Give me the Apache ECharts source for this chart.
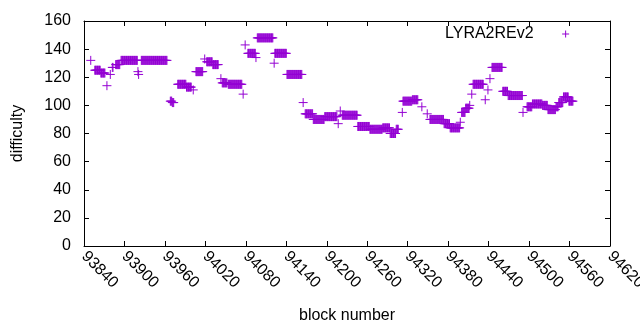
<!DOCTYPE html>
<html>
<head>
<meta charset="utf-8">
<script src="https://cdn.jsdelivr.net/npm/echarts@6/dist/echarts.min.js"></script>
<style>
html, body { margin: 0; padding: 0; background: #fff; }
#chart { width: 640px; height: 330px; }
</style>
</head>
<body>
<div id="chart"></div>
<script>
// difficulty held constant over runs of blocks: [start, end] inclusive
var runStart = [93850, 93856, 93865, 93874, 93879, 93882, 93887, 93895, 93920, 93921,
                93925, 93968, 93971, 93979, 93992, 94002, 94006, 94019, 94022, 94031,
                94043, 94045, 94054, 94076, 94079, 94083, 94095, 94097, 94122, 94123,
                94141, 94165, 94168, 94180, 94197, 94217, 94220, 94223, 94246, 94264,
                94283, 94294, 94303, 94312, 94313, 94327, 94341, 94349, 94353, 94374,
                94383, 94398, 94400, 94406, 94412, 94415, 94417, 94435, 94439, 94442,
                94445, 94461, 94469, 94491, 94497, 94505, 94520, 94528, 94540, 94544,
                94551, 94559];
var runEnd   = [93850, 93864, 93871, 93874, 93879, 93883, 93893, 93919, 93920, 93921,
                93963, 93970, 93973, 93991, 93999, 94002, 94016, 94019, 94030, 94039,
                94043, 94052, 94074, 94076, 94079, 94094, 94095, 94120, 94122, 94140,
                94163, 94165, 94179, 94196, 94215, 94217, 94220, 94245, 94263, 94282,
                94293, 94302, 94306, 94312, 94326, 94335, 94341, 94349, 94373, 94382,
                94397, 94398, 94405, 94411, 94412, 94415, 94432, 94435, 94439, 94442,
                94460, 94468, 94490, 94491, 94504, 94519, 94527, 94539, 94543, 94550,
                94558, 94565];
var runValue = [132, 125, 123, 114, 122, 127, 129, 132, 124, 122,
                132, 103, 102, 115, 113, 111, 124, 133, 131, 129,
                119, 116, 115, 108, 143, 137, 134, 148, 130, 137,
                122, 102, 94, 90, 92, 87, 96, 93, 85, 83,
                84, 80, 83, 95, 103, 104, 99, 94, 90, 87,
                84, 88, 95, 98, 100, 108, 115, 104, 111, 119,
                127, 110, 107, 95, 99, 101, 100, 97, 99, 102,
                106, 103];

var seriesName = 'LYRA2REv2';
var xMin = 93840, xMax = 94620, xStep = 60;
var yMin = 0, yMax = 160, yStep = 20;

var points = [];
for (var i = 0; i < runStart.length; i++) {
    for (var b = runStart[i]; b <= runEnd[i]; b++) {
        points.push([b, runValue[i]]);
    }
}

var font = 'Liberation Sans';
var purple = '#9400d3';
var cross = 'path://M0,5H10M5,0V10';

function plain(v) { return String(v); }

var chart = echarts.init(document.getElementById('chart'));
chart.setOption({
    animation: false,
    grid: { left: 84, right: 30, top: 21, bottom: 84, outerBoundsMode: 'none' },
    legend: {
        data: [{ name: seriesName, itemStyle: { color: 'none', borderColor: purple, borderWidth: 1 } }],
        left: 440, top: 21,
        align: 'right',
        itemWidth: 54, itemHeight: 7,
        itemGap: 0,
        selectedMode: false,
        textStyle: { fontSize: 16, color: '#000', fontFamily: font }
    },
    xAxis: [{
        type: 'value', min: xMin, max: xMax, interval: xStep, position: 'bottom',
        axisLine: { show: true, onZero: false, lineStyle: { color: '#000', width: 1 } },
        axisTick: { show: true, inside: true, length: 5, lineStyle: { color: '#000' } },
        axisLabel: { rotate: -45, margin: 8, color: '#000', fontSize: 16, fontFamily: font, formatter: plain },
        splitLine: { show: false },
        name: 'block number', nameLocation: 'middle', nameGap: 62,
        nameTextStyle: { fontSize: 16, color: '#000', fontFamily: font }
    }, {
        type: 'value', min: xMin, max: xMax, interval: xStep, position: 'top',
        axisLine: { show: true, onZero: false, lineStyle: { color: '#000', width: 1 } },
        axisTick: { show: true, inside: true, length: 5, lineStyle: { color: '#000' } },
        axisLabel: { show: false },
        splitLine: { show: false }
    }],
    yAxis: [{
        type: 'value', min: yMin, max: yMax, interval: yStep, position: 'left',
        axisLine: { show: true, onZero: false, lineStyle: { color: '#000', width: 1 } },
        axisTick: { show: true, inside: true, length: 5, lineStyle: { color: '#000' } },
        axisLabel: { margin: 13, color: '#000', fontSize: 16, fontFamily: font, formatter: plain },
        splitLine: { show: false },
        name: 'difficulty', nameLocation: 'middle', nameGap: 58,
        nameTextStyle: { fontSize: 16, color: '#000', fontFamily: font }
    }, {
        type: 'value', min: yMin, max: yMax, interval: yStep, position: 'right',
        axisLine: { show: true, onZero: false, lineStyle: { color: '#000', width: 1 } },
        axisTick: { show: true, inside: true, length: 5, lineStyle: { color: '#000' } },
        axisLabel: { show: false },
        splitLine: { show: false }
    }],
    series: [{
        name: seriesName,
        type: 'scatter',
        xAxisIndex: 0, yAxisIndex: 0,
        symbol: cross,
        symbolSize: 9,
        symbolKeepAspect: true,
        itemStyle: { color: purple, borderColor: purple, borderWidth: 1, opacity: 1 },
        emphasis: { disabled: true },
        data: points
    }]
});
</script>
</body>
</html>
